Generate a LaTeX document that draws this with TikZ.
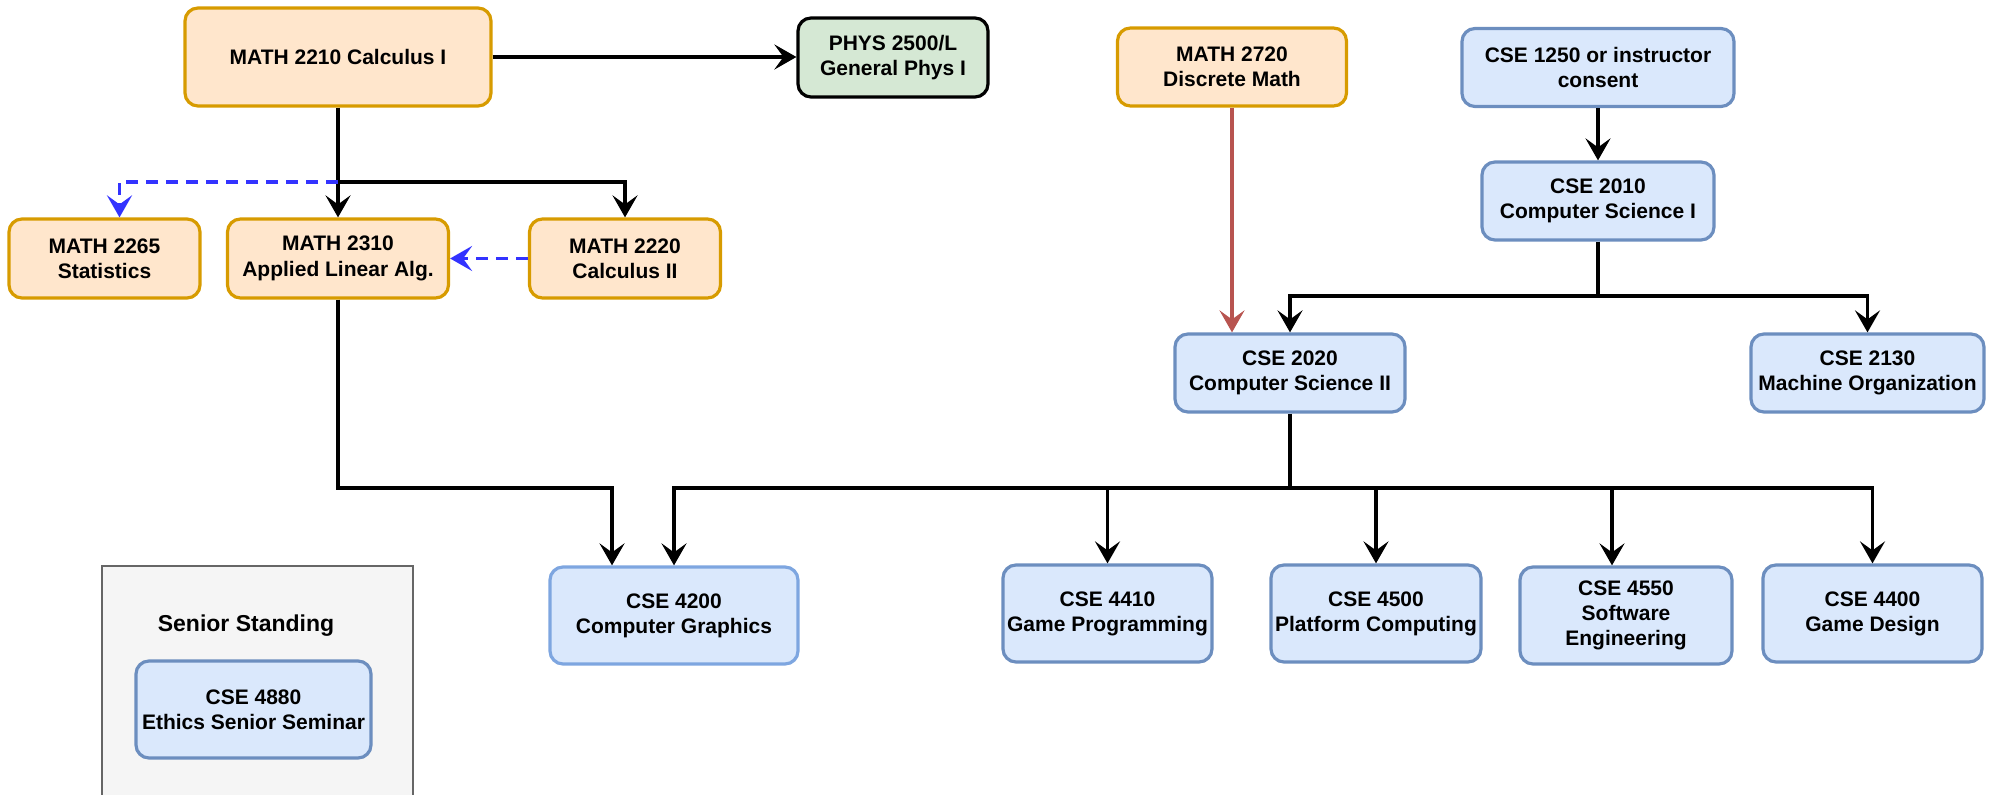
\documentclass[tikz,border=0pt]{standalone}
\usepackage{fontspec}
\setmainfont{Liberation Sans}
\usetikzlibrary{arrows.meta}
\definecolor{orfill}{HTML}{FFE6CC}
\definecolor{orline}{HTML}{D79B00}
\definecolor{blfill}{HTML}{DAE8FC}
\definecolor{blline}{HTML}{6C8EBF}
\definecolor{bllight}{HTML}{7EA6E0}
\definecolor{grfill}{HTML}{D5E8D4}
\definecolor{dashblue}{HTML}{3333FF}
\definecolor{redline}{HTML}{B85450}
\definecolor{boxfill}{HTML}{F5F5F5}
\definecolor{boxline}{HTML}{666666}

\begin{document}
\begin{tikzpicture}[x=0.5pt,y=-0.5pt,
        course/.style={rounded corners=6.5pt,line width=1.6pt,align=center,inner sep=0pt,
            font=\fontsize{10.5pt}{12.6pt}\selectfont\bfseries},
        math/.style={course,draw=orline,fill=orfill},
        cse/.style={course,draw=blline,fill=blfill},
        physbox/.style={course,draw=black,fill=grfill},
        req/.style={line width=1.7pt,-{Stealth[length=11pt,width=12.5pt,inset=4.5pt]}},
        opt/.style={req,dashblue,dash pattern=on 6pt off 4pt},
        disc/.style={req,redline,line width=1.6pt}]
        \useasboundingbox (0,0) rectangle (1994,795);
        \fill[boxfill] (102,566) rectangle (413,795);
        \draw[boxline,line width=1pt] (102,795) -- (102,566) -- (413,566) -- (413,795);
        \node(senior) at (246,626) {\fontsize{11.5pt}{13pt}\selectfont\bfseries Senior Standing};

        \node[math,minimum width=153pt,minimum height=49pt](m2210) at (338,57) {MATH 2210 Calculus I};
        \node[physbox,minimum width=95pt,minimum height=39.5pt](phys) at (893,57.5) {PHYS 2500/L\\General Phys I};
        \node[math,minimum width=114.5pt,minimum height=39pt](m2720) at (1232,67) {MATH 2720\\Discrete Math};
        \node[cse,minimum width=136pt,minimum height=39pt](c1250) at (1598,67.5) {CSE 1250 or instructor\\consent};
        \node[math,minimum width=95.5pt,minimum height=39.5pt](m2265) at (104.5,258.5) {MATH 2265\\Statistics};
        \node[math,minimum width=110.5pt,minimum height=39.5pt](m2310) at (338,258.5) {MATH 2310\\Applied Linear Alg.};
        \node[math,minimum width=95.5pt,minimum height=39.5pt](m2220) at (625,258.5) {MATH 2220\\Calculus II};
        \node[cse,minimum width=116pt,minimum height=39pt](c2010) at (1598,201) {CSE 2010\\Computer Science I};
        \node[cse,minimum width=115pt,minimum height=39pt](c2020) at (1290,373) {CSE 2020\\Computer Science II};
        \node[cse,minimum width=116.5pt,minimum height=39pt](c2130) at (1867.5,373) {CSE 2130\\Machine Organization};
        \node[cse,draw=bllight,minimum width=124pt,minimum height=48.5pt](c4200) at (674,615.5) {CSE 4200\\Computer Graphics};
        \node[cse,minimum width=104.5pt,minimum height=48.5pt](c4410) at (1107.5,613.5) {CSE 4410\\Game Programming};
        \node[cse,minimum width=105pt,minimum height=48.5pt](c4500) at (1376,613.5) {CSE 4500\\Platform Computing};
        \node[cse,minimum width=106pt,minimum height=48.5pt](c4550) at (1626,615.5) {CSE 4550\\Software\\Engineering};
        \node[cse,minimum width=109.5pt,minimum height=48.5pt](c4400) at (1872.5,613.5) {CSE 4400\\Game Design};
        \node[cse,minimum width=117.5pt,minimum height=48.5pt](c4880) at (253.5,709.5) {CSE 4880\\Ethics Senior Seminar};

        \coordinate(j1) at (338,182);
        \coordinate(j2) at (1598,296);
        \coordinate(bus) at (0,488);
        \draw[req](m2210.east)--(m2210.east-|phys.west);
        \draw[req](m2210.south)--(m2310.north);
        \draw[req](j1)-|(m2220.north);
        \draw[opt](j1)-|([xshift=7.5pt]m2265.north);
        \draw[opt](m2220.west)--(m2310.east);
        \draw[req](m2310.south)--(m2310.south|-bus)-|([xshift=-31pt]c4200.north);
        \draw[disc](m2720.south)--(m2720.south|-c2020.north);
        \draw[req](c1250.south)--(c2010.north);
        \draw[req](c2010.south)--(j2)-|(c2020.north);
        \draw[req](j2)-|(c2130.north);
        \draw[req](c2020.south)--(c2020.south|-bus)-|(c4200.north);
        \draw[req](c2020.south|-bus)-|(c4410.north);
        \draw[req](c2020.south|-bus)-|(c4500.north);
        \draw[req](c2020.south|-bus)-|([xshift=-7pt]c4550.north);
        \draw[req](c2020.south|-bus)-|(c4400.north);
\end{tikzpicture}
\end{document}
